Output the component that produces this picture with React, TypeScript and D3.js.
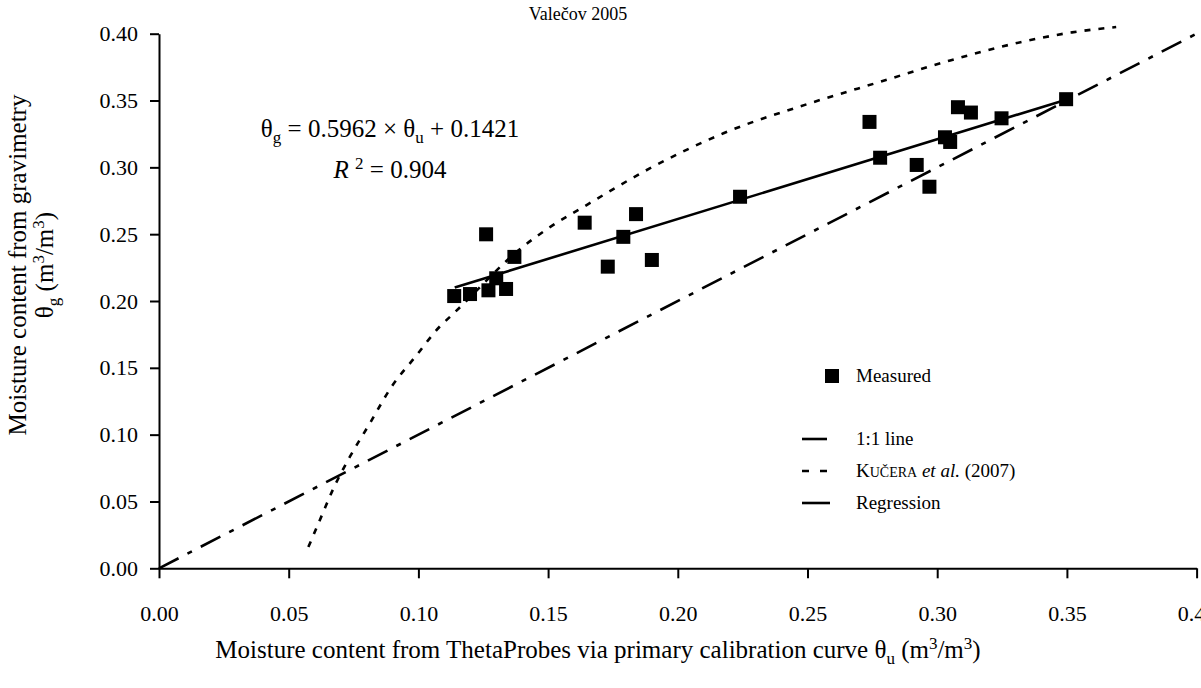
import React, { useRef, useEffect } from 'react';
import * as d3 from 'd3';

// Measured points: θu (ThetaProbe) and θg (gravimetry)
const measuredU = [0.1138, 0.1199, 0.1261, 0.127, 0.130, 0.1338, 0.137, 0.1641, 0.173, 0.179, 0.1839, 0.190,
  0.224, 0.2739, 0.278, 0.2921, 0.297, 0.303, 0.305, 0.308, 0.313, 0.3248, 0.3497];
const measuredG = [0.2037, 0.2052, 0.2499, 0.208, 0.217, 0.209, 0.233, 0.2586, 0.2257, 0.248, 0.265, 0.2307,
  0.278, 0.334, 0.3072, 0.3018, 0.2855, 0.3225, 0.319, 0.345, 0.341, 0.3367, 0.351];

// Kučera et al. (2007) calibration curve
const kuceraU = [0.0576, 0.0633, 0.0666, 0.0736, 0.0813, 0.0897, 0.0987, 0.1083, 0.1132, 0.1403, 0.151, 0.165,
  0.189, 0.2176, 0.251, 0.278, 0.305, 0.333, 0.352, 0.369];
const kuceraG = [0.016, 0.042, 0.057, 0.0835, 0.1085, 0.136, 0.158, 0.181, 0.190, 0.2406, 0.2556, 0.272,
  0.299, 0.3255, 0.348, 0.364, 0.380, 0.394, 0.401, 0.405];

// 1:1 line
const oneToOneU = [0, 0.4];
const oneToOneG = [0, 0.4];

// Regression line over the measured range
const regressionU = [0.114, 0.35];
const regressionG = [0.2101, 0.3508];

const xTicks = [0, 0.05, 0.1, 0.15, 0.2, 0.25, 0.3, 0.35, 0.4];
const yTicks = [0, 0.05, 0.1, 0.15, 0.2, 0.25, 0.3, 0.35, 0.4];

const FONT = '"Liberation Serif", "Times New Roman", serif';

// appends a text made of runs with optional sub/superscript and italic
const richText = (parent, x, y, runs, size, anchor = 'middle') => {
  const t = parent.append('text')
    .attr('x', x)
    .attr('y', y)
    .attr('font-family', FONT)
    .attr('font-size', size)
    .attr('text-anchor', anchor)
    .attr('fill', '#000');
  let shift = 0;
  runs.forEach(r => {
    const target = r.sub ? size * 0.25 : r.sup ? -size * 0.38 : 0;
    const sp = t.append('tspan')
      .attr('dy', target - shift)
      .attr('font-size', r.sub || r.sup ? size * 0.68 : (r.size || size))
      .text(r.t);
    if (r.italic) sp.attr('font-style', 'italic');
    shift = target;
  });
  return t;
};

const Chart = () => {
  const svgRef = useRef();

  useEffect(() => {
    const svg = d3.select(svgRef.current);
    svg.selectAll('*').remove();

    const x = d3.scaleLinear().domain([0, 0.4]).range([159, 1196.6]);
    const y = d3.scaleLinear().domain([0, 0.4]).range([568.3, 33.7]);

    // Axes
    const xAxis = svg.append('g')
      .attr('transform', `translate(0,${y(0)})`)
      .call(d3.axisBottom(x).tickValues(xTicks).tickSize(10).tickSizeOuter(0)
        .tickPadding(27).tickFormat(d3.format('.2f')));
    const yAxis = svg.append('g')
      .attr('transform', `translate(${x(0)},0)`)
      .call(d3.axisLeft(y).tickValues(yTicks).tickSize(9).tickSizeOuter(0)
        .tickPadding(12).tickFormat(d3.format('.2f')));
    [xAxis, yAxis].forEach(a => {
      a.attr('font-family', FONT).attr('font-size', 22);
      a.selectAll('path, line').attr('stroke', '#000').attr('stroke-width', 2);
      a.selectAll('text').attr('fill', '#000');
    });

    const line = d3.line().x(d => x(d[0])).y(d => y(d[1]));

    // 1:1 line
    svg.append('path')
      .datum(d3.zip(oneToOneU, oneToOneG))
      .attr('d', line)
      .attr('fill', 'none')
      .attr('stroke', '#000')
      .attr('stroke-width', 2.6)
      .attr('stroke-dasharray', '22,10,5,10');

    // Kučera curve
    svg.append('path')
      .datum(d3.zip(kuceraU, kuceraG))
      .attr('d', line.curve(d3.curveMonotoneX))
      .attr('fill', 'none')
      .attr('stroke', '#000')
      .attr('stroke-width', 2.6)
      .attr('stroke-dasharray', '6,8');
    line.curve(d3.curveLinear);

    // Regression
    svg.append('path')
      .datum(d3.zip(regressionU, regressionG))
      .attr('d', line)
      .attr('fill', 'none')
      .attr('stroke', '#000')
      .attr('stroke-width', 2.6);

    // Measured points
    const sz = 14;
    svg.append('g')
      .selectAll('rect')
      .data(d3.zip(measuredU, measuredG))
      .enter()
      .append('rect')
      .attr('x', d => x(d[0]) - sz / 2)
      .attr('y', d => y(d[1]) - sz / 2)
      .attr('width', sz)
      .attr('height', sz)
      .attr('fill', '#000');

    // Title
    svg.append('text')
      .attr('x', 578)
      .attr('y', 20)
      .attr('font-family', FONT)
      .attr('font-size', 18)
      .attr('text-anchor', 'middle')
      .text('Valečov 2005');

    // Equation
    richText(svg, 390, 137, [
      { t: 'θ' }, { t: 'g', sub: true }, { t: ' = 0.5962 × θ' }, { t: 'u', sub: true }, { t: ' + 0.1421' }
    ], 25);
    richText(svg, 390, 178, [
      { t: 'R', italic: true }, { t: ' ' }, { t: '2', sup: true }, { t: ' = 0.904' }
    ], 25);

    // Axis titles
    richText(svg, 598, 658, [
      { t: 'Moisture content from ThetaProbes via primary calibration curve θ' }, { t: 'u', sub: true },
      { t: ' (m' }, { t: '3', sup: true }, { t: '/m' }, { t: '3', sup: true }, { t: ')' }
    ], 25);
    const yt = svg.append('g').attr('transform', 'translate(26,265) rotate(-90)');
    richText(yt, 0, 0, [{ t: 'Moisture content from gravimetry' }], 25);
    richText(yt, 0, 27, [
      { t: 'θ' }, { t: 'g', sub: true }, { t: ' (m' }, { t: '3', sup: true }, { t: '/m' }, { t: '3', sup: true }, { t: ')' }
    ], 25);

    // Legend
    const legend = svg.append('g');
    const lx = 802, tx = 856, fs = 19;
    legend.append('rect').attr('x', 825).attr('y', 369).attr('width', 14).attr('height', 14).attr('fill', '#000');
    richText(legend, tx, 382, [{ t: 'Measured' }], fs, 'start');
    legend.append('line').attr('x1', lx).attr('x2', lx + 25).attr('y1', 439).attr('y2', 439)
      .attr('stroke', '#000').attr('stroke-width', 2.6);
    richText(legend, tx, 445, [{ t: '1:1 line' }], fs, 'start');
    legend.append('line').attr('x1', lx).attr('x2', lx + 25).attr('y1', 471).attr('y2', 471)
      .attr('stroke', '#000').attr('stroke-width', 2.6).attr('stroke-dasharray', '7,11');
    richText(legend, tx, 477, [
      { t: 'K' }, { t: 'UČERA', size: 14 }, { t: ' ' }, { t: 'et al.', italic: true }, { t: ' (2007)' }
    ], fs, 'start');
    legend.append('line').attr('x1', lx).attr('x2', lx + 28).attr('y1', 503).attr('y2', 503)
      .attr('stroke', '#000').attr('stroke-width', 2.6);
    richText(legend, tx, 509, [{ t: 'Regression' }], fs, 'start');
  }, []);

  return <svg ref={svgRef} width={1201} height={688} style={{ position: 'absolute', left: 0, top: 0, background: '#fff' }} />;
};

export default function App() {
  return <Chart />;
}
